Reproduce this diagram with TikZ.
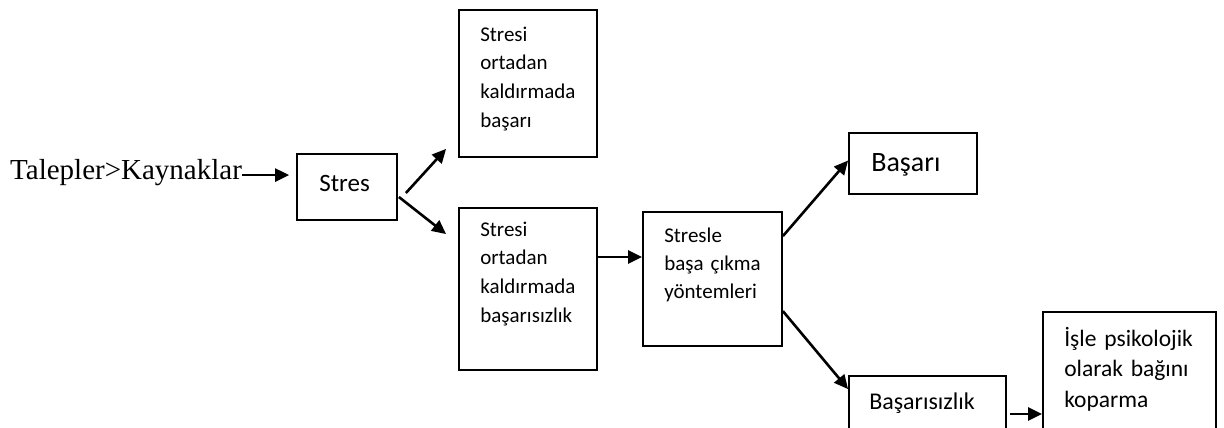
\documentclass[tikz,border=0pt]{standalone}
\usepackage{fontspec}
\setmainfont{Liberation Serif}
\newfontfamily\boxfont{Carlito}
\usetikzlibrary{arrows.meta}

\begin{document}
\begin{tikzpicture}[
    x=1pt, y=-1pt,
    >={Triangle[length=14pt, width=13pt]},
    % Define styles
    box/.style={rectangle, draw=black, line width=1.8pt, inner sep=0pt},
    boxtext/.style={anchor=base west, inner sep=0pt, align=left, text width=170pt},
    small/.style={font=\boxfont\fontsize{21}{28.8}\selectfont},
    arr/.style={->, line width=2.6pt}
]
\useasboundingbox (0,0) rectangle (1224,428);

% 1. Demands and stress
\node[anchor=base west, inner sep=0pt, font=\fontsize{29}{34}\selectfont] (demands) at (10,179) {Talepler>Kaynaklar};
\node[box, minimum width=100pt, minimum height=66pt] (stres) at (347,187) {};
\node[boxtext, font=\boxfont\fontsize{25}{30}\selectfont] (strestxt) at ([shift={(23,38)}]stres.north west) {Stres};

% 2. Removing the stress
\node[box, minimum width=138pt, minimum height=147pt] (succ) at (528,83.5) {};
\node[boxtext, small] (succtxt) at ([shift={(22,32)}]succ.north west) {Stresi\\ortadan\\kaldırmada\\başarı};
\node[box, minimum width=138pt, minimum height=162pt] (fail) at (528,289) {};
\node[boxtext, small] (failtxt) at ([shift={(22,29)}]fail.north west) {Stresi\\ortadan\\kaldırmada\\başarısızlık};

% 3. Coping
\node[box, minimum width=139pt, minimum height=134pt] (cope) at (712.5,279) {};
\node[boxtext, font=\boxfont\fontsize{21}{28}\selectfont] (copetxt) at ([shift={(22,31)}]cope.north west) {Stresle\\başa çıkma\\yöntemleri};

% 4. Outcomes
\node[box, minimum width=128pt, minimum height=61pt] (basari) at (913,163.5) {};
\node[boxtext, font=\boxfont\fontsize{28}{32}\selectfont] (basaritxt) at ([shift={(23,39)}]basari.north west) {Başarı};
\node[box, minimum width=157pt, minimum height=64pt] (bfail) at (927.5,408) {};
\node[boxtext, font=\boxfont\fontsize{24}{29}\selectfont] (bfailtxt) at ([shift={(21,34)}]bfail.north west) {Başarısızlık};
\node[box, minimum width=173pt, minimum height=128pt] (isle) at (1129.5,376) {};
\node[boxtext, font=\boxfont\fontsize{23.5}{30.5}\selectfont] (isletxt) at ([shift={(22,35)}]isle.north west) {İşle psikolojik\\olarak bağını\\koparma};

% Connections
\draw[arr, shorten >=7pt] ([yshift=-3pt]demands.east) -- ([yshift=-3pt]demands.east -| stres.west);
\draw[arr] ([shift={(8,6)}]stres.east) -- ([shift={(-12,-9)}]succ.south west);
\draw[arr] ([shift={(1,10)}]stres.east) -- ([shift={(-12,27)}]fail.north west);
\draw[arr] ([yshift=32pt]fail.east) -- ([yshift=32pt]fail.east -| cope.west);
\draw[arr] ([yshift=-25pt]cope.north east) -- ([yshift=3pt]basari.west);
\draw[arr] ([yshift=-100pt]cope.north east) -- ([yshift=-14pt]bfail.north west);
\draw[arr, shorten <=3pt] ([yshift=-6pt]bfail.east) -- ([yshift=-6pt]bfail.east -| isle.west);

\end{tikzpicture}
\end{document}
